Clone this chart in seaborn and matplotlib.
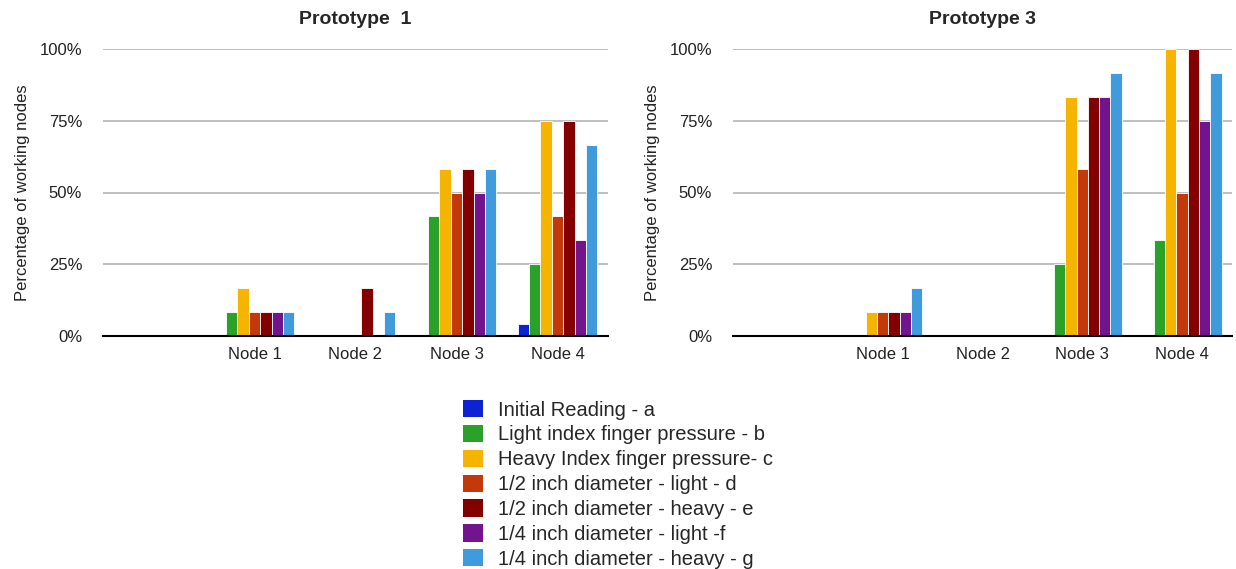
import matplotlib
matplotlib.use("Agg")
import matplotlib.pyplot as plt
from matplotlib.patches import Patch
import numpy as np
import pandas as pd
import seaborn as sns

# Node labels and test conditions
nodes = ["Node 1", "Node 2", "Node 3", "Node 4"]
conditions = [
    "Initial Reading - a",
    "Light index finger pressure - b",
    "Heavy Index finger pressure- c",
    "1/2 inch diameter - light - d",
    "1/2 inch diameter - heavy - e",
    "1/4 inch diameter - light -f",
    "1/4 inch diameter - heavy - g",
]
colors = ["#0c22d4", "#2aa22a", "#f4b400", "#c4390a", "#840000", "#72148e", "#3f9bdc"]

# Share of working nodes (fraction), one list per condition, ordered Node 1..4
proto1_a = [0.0, 0.0, 0.0, 0.0417]
proto1_b = [0.0833, 0.0, 0.4167, 0.25]
proto1_c = [0.1667, 0.0, 0.5833, 0.75]
proto1_d = [0.0833, 0.0, 0.50, 0.4167]
proto1_e = [0.0833, 0.1667, 0.5833, 0.75]
proto1_f = [0.0833, 0.0, 0.50, 0.3333]
proto1_g = [0.0833, 0.0833, 0.5833, 0.6667]

proto3_a = [0.0, 0.0, 0.0, 0.0]
proto3_b = [0.0, 0.0, 0.25, 0.3333]
proto3_c = [0.0833, 0.0, 0.8333, 1.0]
proto3_d = [0.0833, 0.0, 0.5833, 0.50]
proto3_e = [0.0833, 0.0, 0.8333, 1.0]
proto3_f = [0.0833, 0.0, 0.8333, 0.75]
proto3_g = [0.1667, 0.0, 0.9167, 0.9167]

proto1 = [proto1_a, proto1_b, proto1_c, proto1_d, proto1_e, proto1_f, proto1_g]
proto3 = [proto3_a, proto3_b, proto3_c, proto3_d, proto3_e, proto3_f, proto3_g]
yticks = [0, 0.25, 0.5, 0.75, 1.0]
ytick_labels = ["0%", "25%", "50%", "75%", "100%"]


def to_frame(series):
    rows = []
    for cond, vals in zip(conditions, series):
        for node, v in zip(nodes, vals):
            rows.append({"node": node, "condition": cond, "value": v})
    return pd.DataFrame(rows)


sns.set_style("white")
plt.rcParams["font.family"] = ["Liberation Sans", "DejaVu Sans"]

fig = plt.figure(figsize=(12.36, 5.69), dpi=100)
W, H = 1236, 569
ax1 = fig.add_axes([103 / W, 1 - 336 / H, 505 / W, 287 / H])
ax2 = fig.add_axes([733 / W, 1 - 336 / H, 499 / W, 287 / H])

for ax, series, title in [(ax1, proto1, "Prototype  1"), (ax2, proto3, "Prototype 3")]:
    df = to_frame(series)
    sns.barplot(
        data=df, x="node", y="value", hue="condition",
        order=nodes, hue_order=conditions, palette=colors, saturation=1,
        width=0.79, edgecolor="white", linewidth=0.6,
        errorbar=None, legend=False, ax=ax,
    )
    ax.set_xlim(-1.5, 3.5)
    ax.set_ylim(0, 1.0)
    ax.set_yticks(yticks)
    ax.set_yticklabels(ytick_labels)
    ax.yaxis.grid(True, color="#b4b4b4", linewidth=1.2)
    ax.set_axisbelow(True)
    for side in ["top", "right", "left"]:
        ax.spines[side].set_visible(False)
    ax.spines["bottom"].set_color("black")
    ax.spines["bottom"].set_linewidth(1.5)
    ax.spines["bottom"].set_zorder(5)
    ax.tick_params(axis="both", length=0, labelsize=12, colors="#222222")
    ax.tick_params(axis="y", pad=15)
    ax.tick_params(axis="x", pad=8)
    ax.set_xlabel("")
    ax.set_ylabel("Percentage of working nodes", fontsize=12, color="#222222", labelpad=7)
    ax.set_title(title, fontsize=14, fontweight="bold", pad=18)

handles = [Patch(facecolor=c, edgecolor="none") for c in colors]
fig.legend(
    handles, conditions, loc="upper center", bbox_to_anchor=(0.5, 1 - 400 / H),
    frameon=False, fontsize=14.5, handlelength=0.95, handleheight=0.95,
    handletextpad=0.75, labelspacing=0.26, borderaxespad=0, borderpad=0,
)

fig.savefig("out.png", dpi=100, facecolor="white")
